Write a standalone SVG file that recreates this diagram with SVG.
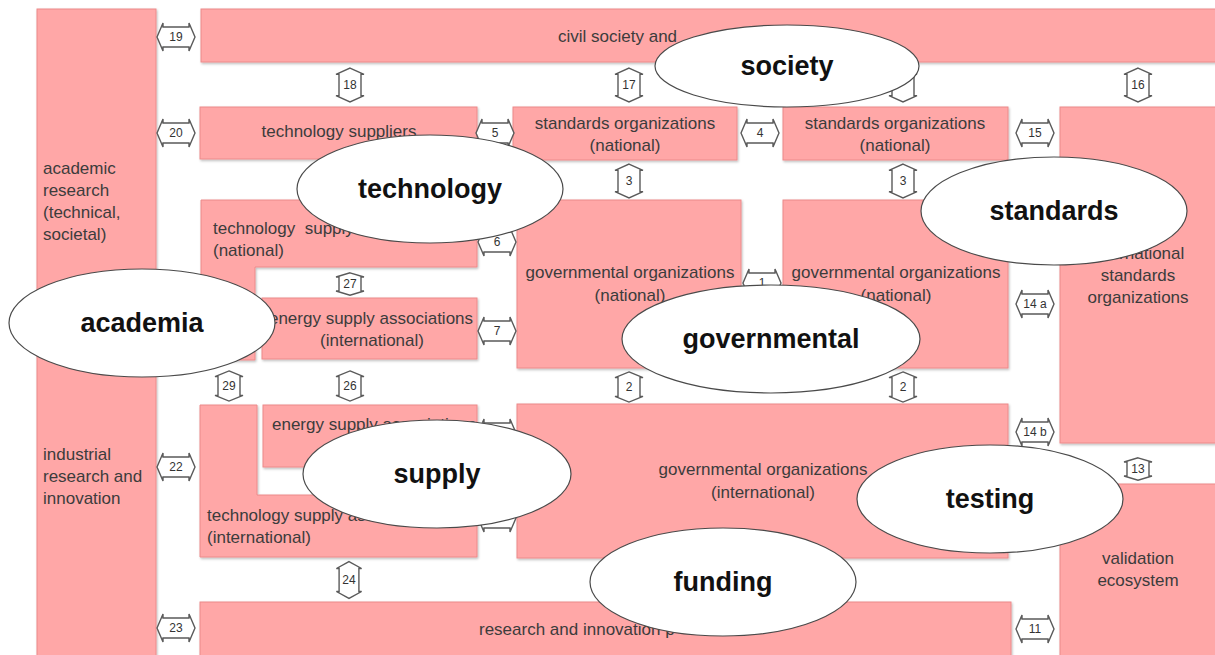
<svg xmlns="http://www.w3.org/2000/svg" xmlns:xlink="http://www.w3.org/1999/xlink" width="1215" height="655" viewBox="0 0 1215 655">
<style>
.box{fill:#FFA7A7;stroke:#EC8A8A;stroke-width:1;filter:url(#sh)}
.t{font-family:"Liberation Sans",Arial,sans-serif;font-size:17px;fill:#3c3c3c}
.c{text-anchor:middle}
.ell{fill:#ffffff;stroke:#4a4a4a;stroke-width:1.2}
.el{font-family:"Liberation Sans",Arial,sans-serif;font-weight:bold;font-size:27px;text-anchor:middle;fill:#111111}
.arr{fill:#ffffff;stroke:#5a5a5a;stroke-width:1.4}
.n{font-family:"Liberation Sans",Arial,sans-serif;font-size:12px;text-anchor:middle;fill:#333333}
</style>
<defs>
<filter id="sh" x="-5%" y="-5%" width="110%" height="115%">
<feDropShadow dx="1" dy="1.5" stdDeviation="0.8" flood-color="#000000" flood-opacity="0.25"/>
</filter>
<path id="ah" vector-effect="non-scaling-stroke" d="M-19,0 L-13,-14 L-13,-10 L13,-10 L13,-14 L19,0 L13,14 L13,10 L-13,10 L-13,14 Z"/>
<path id="av" vector-effect="non-scaling-stroke" d="M0,-16 L14,-10 L11,-10 L11,10 L14,10 L0,16 L-14,10 L-11,10 L-11,-10 L-14,-10 Z"/>
</defs>
<rect width="1215" height="655" fill="#ffffff"/>

<g id="n-academic-column">
<rect class="box" x="37" y="9" width="119" height="660"/>
<text class="t"><tspan x="43" y="174">academic</tspan><tspan x="43" y="196">research</tspan><tspan x="43" y="218">(technical,</tspan><tspan x="43" y="240">societal)</tspan></text>
<text class="t"><tspan x="43" y="460">industrial</tspan><tspan x="43" y="482">research and</tspan><tspan x="43" y="504">innovation</tspan></text>
</g>
<g id="n-civil-society">
<rect class="box" x="201" y="9" width="1030" height="53"/>
<text class="t" x="558" y="42">civil society and</text>
</g>
<g id="n-technology-suppliers">
<rect class="box" x="200" y="107" width="277" height="52"/>
<text class="t c" x="339" y="137">technology suppliers</text>
</g>
<g id="n-standards-national-1">
<rect class="box" x="513" y="107" width="224" height="53"/>
<text class="t c"><tspan x="625" y="129">standards organizations</tspan><tspan x="625" y="151">(national)</tspan></text>
</g>
<g id="n-standards-national-2">
<rect class="box" x="783" y="107" width="225" height="53"/>
<text class="t c"><tspan x="895" y="129">standards organizations</tspan><tspan x="895" y="151">(national)</tspan></text>
</g>
<g id="n-standards-international">
<rect class="box" x="1060" y="107" width="170" height="336"/>
<text class="t c"><tspan x="1138" y="259">international</tspan><tspan x="1138" y="281">standards</tspan><tspan x="1138" y="303">organizations</tspan></text>
</g>
<g id="n-tech-supply-national">
<path class="box" d="M201,200 H477 V267 H255 V360 H201 Z"/>
<text class="t" xml:space="preserve"><tspan x="213" y="234">technology  supply associations</tspan><tspan x="213" y="256">(national)</tspan></text>
</g>
<g id="n-energy-supply-international">
<rect class="box" x="262" y="298" width="215" height="61"/>
<text class="t c"><tspan x="371" y="324">energy supply associations</tspan><tspan x="372" y="346">(international)</tspan></text>
</g>
<g id="n-gov-national-1">
<rect class="box" x="517" y="200" width="224" height="168"/>
<text class="t c"><tspan x="630" y="278">governmental organizations</tspan><tspan x="630" y="301">(national)</tspan></text>
</g>
<g id="n-gov-national-2">
<rect class="box" x="783" y="200" width="225" height="168"/>
<text class="t c"><tspan x="896" y="278">governmental organizations</tspan><tspan x="896" y="301">(national)</tspan></text>
</g>
<g id="n-tech-supply-international">
<path class="box" d="M200,405 H257 V495 H477 V557 H200 Z"/>
<text class="t"><tspan x="207" y="521">technology supply associations</tspan><tspan x="207" y="543">(international)</tspan></text>
</g>
<g id="n-energy-supply-2">
<rect class="box" x="263" y="405" width="214" height="62"/>
<text class="t" x="272" y="430">energy supply associations</text>
</g>
<g id="n-gov-international">
<rect class="box" x="517" y="404" width="491" height="154"/>
<text class="t c"><tspan x="763" y="475">governmental organizations</tspan><tspan x="763" y="498">(international)</tspan></text>
</g>
<g id="n-validation">
<rect class="box" x="1060" y="484" width="170" height="190"/>
<text class="t c"><tspan x="1138" y="564">validation</tspan><tspan x="1138" y="586">ecosystem</tspan></text>
</g>
<g id="n-research-programs">
<rect class="box" x="200" y="602" width="811" height="70"/>
<text class="t" x="479" y="635">research and innovation p</text>
</g>

<g id="connectors">
<g><use href="#ah" class="arr" transform="translate(176,37)"/><text class="n" x="176" y="41">19</text></g>
<g><use href="#ah" class="arr" transform="translate(176,133)"/><text class="n" x="176" y="137">20</text></g>
<g><use href="#ah" class="arr" transform="translate(176,467)"/><text class="n" x="176" y="471">22</text></g>
<g><use href="#ah" class="arr" transform="translate(176,628)"/><text class="n" x="176" y="632">23</text></g>
<g><use href="#ah" class="arr" transform="translate(495,133)"/><text class="n" x="495" y="137">5</text></g>
<g><use href="#ah" class="arr" transform="translate(760,133)"/><text class="n" x="760" y="137">4</text></g>
<g><use href="#ah" class="arr" transform="translate(1035,133)"/><text class="n" x="1035" y="137">15</text></g>
<g><use href="#ah" class="arr" transform="translate(497,242)"/><text class="n" x="497" y="246">6</text></g>
<g><use href="#ah" class="arr" transform="translate(497,331)"/><text class="n" x="497" y="335">7</text></g>
<g><use href="#ah" class="arr" transform="translate(762,283)"/><text class="n" x="762" y="287">1</text></g>
<g><use href="#ah" class="arr" transform="translate(1035,304)"/><text class="n" x="1035" y="308">14 a</text></g>
<g><use href="#ah" class="arr" transform="translate(1035,432)"/><text class="n" x="1035" y="436">14 b</text></g>
<g><use href="#ah" class="arr" transform="translate(1035,629)"/><text class="n" x="1035" y="633">11</text></g>
<g><use href="#ah" class="arr" transform="translate(497,433)"/></g>
<g><use href="#ah" class="arr" transform="translate(497,518)"/></g>
<g><use href="#av" class="arr" transform="translate(350,85) scale(1,1.06)"/><text class="n" x="350" y="89">18</text></g>
<g><use href="#av" class="arr" transform="translate(629,85) scale(1,1.06)"/><text class="n" x="629" y="89">17</text></g>
<g><use href="#av" class="arr" transform="translate(903,85) scale(1,1.06)"/></g>
<g><use href="#av" class="arr" transform="translate(1138,85) scale(1,1.06)"/><text class="n" x="1138" y="89">16</text></g>
<g><use href="#av" class="arr" transform="translate(629,181) scale(1,1.06)"/><text class="n" x="629" y="185">3</text></g>
<g><use href="#av" class="arr" transform="translate(903,181) scale(1,1.06)"/><text class="n" x="903" y="185">3</text></g>
<g><use href="#av" class="arr" transform="translate(629,387) scale(1,0.94)"/><text class="n" x="629" y="391">2</text></g>
<g><use href="#av" class="arr" transform="translate(903,387) scale(1,0.94)"/><text class="n" x="903" y="391">2</text></g>
<g><use href="#av" class="arr" transform="translate(350,284) scale(1,0.7)"/><text class="n" x="350" y="288">27</text></g>
<g><use href="#av" class="arr" transform="translate(229,386) scale(1,0.94)"/><text class="n" x="229" y="390">29</text></g>
<g><use href="#av" class="arr" transform="translate(350,386) scale(1,0.94)"/><text class="n" x="350" y="390">26</text></g>
<g><use href="#av" class="arr" transform="translate(1138,469) scale(1,0.7)"/><text class="n" x="1138" y="473">13</text></g>
<g><use href="#av" class="arr" transform="translate(349,580) scale(0.9,1.15)"/><text class="n" x="349" y="584">24</text></g>
</g>

<g id="n-society"><ellipse class="ell" cx="787" cy="66" rx="132" ry="41"/><text class="el" x="787" y="75">society</text></g>
<g id="n-technology"><ellipse class="ell" cx="430" cy="189" rx="133" ry="54"/><text class="el" x="430" y="198">technology</text></g>
<g id="n-standards"><ellipse class="ell" cx="1054" cy="211" rx="133" ry="54"/><text class="el" x="1054" y="220">standards</text></g>
<g id="n-academia"><ellipse class="ell" cx="142" cy="323" rx="133" ry="54"/><text class="el" x="142" y="332">academia</text></g>
<g id="n-governmental"><ellipse class="ell" cx="771" cy="339" rx="149" ry="54"/><text class="el" x="771" y="348">governmental</text></g>
<g id="n-supply"><ellipse class="ell" cx="437" cy="474" rx="134" ry="54"/><text class="el" x="437" y="483">supply</text></g>
<g id="n-testing"><ellipse class="ell" cx="990" cy="499" rx="133" ry="54"/><text class="el" x="990" y="508">testing</text></g>
<g id="n-funding"><ellipse class="ell" cx="723" cy="582" rx="133" ry="54"/><text class="el" x="723" y="591">funding</text></g>
</svg>
